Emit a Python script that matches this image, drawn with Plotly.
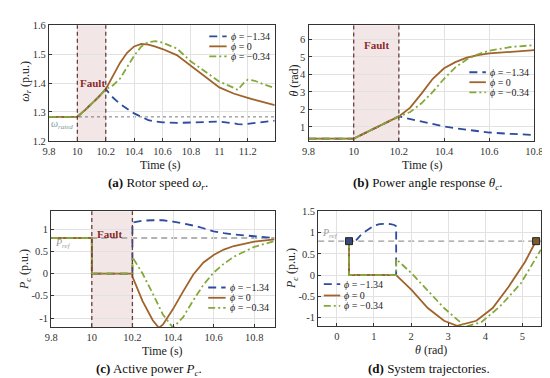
import plotly.graph_objects as go

# ---------------- data ----------------
# (a) rotor speed
t_a = [9.8, 10.0, 10.05, 10.1, 10.15, 10.2, 10.25, 10.3, 10.35, 10.4, 10.45, 10.5, 10.55, 10.6,
       10.7, 10.8, 10.9, 11.0, 11.1, 11.13, 11.17, 11.2, 11.25, 11.3, 11.39]
wr_blue = [1.283, 1.283, 1.305, 1.328, 1.352, 1.379, 1.35, 1.328, 1.31, 1.295, 1.283, 1.272, 1.267, 1.264,
           1.262, 1.263, 1.265, 1.267, 1.261, 1.258, 1.257, 1.259, 1.262, 1.265, 1.27]
wr_brown = [1.283, 1.283, 1.305, 1.328, 1.352, 1.379, 1.424, 1.47, 1.505, 1.527, 1.536, 1.533, 1.526, 1.518,
            1.497, 1.46, 1.42, 1.385, 1.364, 1.359, 1.354, 1.349, 1.342, 1.335, 1.324]
wr_green = [1.283, 1.283, 1.305, 1.328, 1.352, 1.379, 1.392, 1.415, 1.455, 1.495, 1.527, 1.542, 1.545, 1.54,
            1.52, 1.475, 1.44, 1.405, 1.384, 1.376, 1.40, 1.412, 1.408, 1.398, 1.383]
w_rated = 1.283

# (b) power angle
t_b = [9.8, 10.0, 10.2, 10.25, 10.3, 10.35, 10.4, 10.45, 10.5, 10.55, 10.6, 10.7, 10.8]
th_blue = [0.33, 0.33, 1.6, 1.45, 1.3, 1.15, 1.02, 0.92, 0.83, 0.75, 0.68, 0.6, 0.54]
th_brown = [0.33, 0.33, 1.6, 2.1, 2.9, 3.75, 4.35, 4.7, 4.95, 5.1, 5.2, 5.3, 5.38]
th_green = [0.33, 0.33, 1.6, 1.85, 2.35, 3.0, 3.75, 4.4, 4.85, 5.15, 5.35, 5.57, 5.67]

# (c) active power
t_c = [9.8, 10.0, 10.0, 10.2, 10.2, 10.25, 10.3, 10.33, 10.35, 10.4, 10.45, 10.5, 10.55, 10.6, 10.65,
       10.7, 10.8, 10.9]
pc_blue = [0.8, 0.8, 0.0, 0.0, 1.15, 1.19, 1.2, 1.2, 1.2, 1.17, 1.13, 1.08, 1.02, 0.95, 0.91,
           0.88, 0.84, 0.80]
pc_brown = [0.8, 0.8, 0.0, 0.0, -0.07, -0.62, -1.05, -1.22, -1.15, -0.8, -0.4, -0.02, 0.25, 0.42, 0.54,
            0.62, 0.72, 0.77]
pc_green = [0.8, 0.8, 0.0, 0.0, 0.37, 0.0, -0.45, -0.75, -0.92, -1.22, -0.98, -0.6, -0.25, 0.02, 0.22,
            0.38, 0.6, 0.73]
p_ref = 0.8

# (d) trajectories
thd_blue = [0.33, 0.33, 1.6, 1.6, 1.55, 1.45, 1.3, 1.15, 1.0, 0.85, 0.72, 0.62, 0.55, 0.52]
pd_blue = [0.8, 0.0, 0.0, 1.15, 1.18, 1.2, 1.21, 1.2, 1.16, 1.08, 1.0, 0.92, 0.86, 0.82]
thd_brown = [0.33, 0.33, 1.6, 2.02, 2.45, 2.89, 3.24, 3.76, 4.2, 4.63, 5.07, 5.37]
pd_brown = [0.8, 0.0, 0.0, -0.35, -0.77, -1.07, -1.19, -1.07, -0.77, -0.27, 0.31, 0.81]
thd_green = [0.33, 0.33, 1.6, 1.6, 2.02, 2.45, 2.89, 3.32, 3.5, 3.9, 4.4, 4.96, 5.5]
pd_green = [0.8, 0.0, 0.0, 0.38, 0.04, -0.35, -0.77, -1.1, -1.2, -1.1, -0.73, -0.19, 0.6]
start_pt = [0.33, 0.8]
end_pt = [5.37, 0.8]

labels = ["<i>ϕ</i> = −1.34", "<i>ϕ</i> = 0", "<i>ϕ</i> = −0.34"]
fault = [10.0, 10.2]

# ---------------- style ----------------
C_BLUE = "#2d4c9e"
C_BROWN = "#a0632b"
C_GREEN = "#86a83a"
DASHES = ["8px,5px", "solid", "7px,3px,2px,3px"]
COLORS = [C_BLUE, C_BROWN, C_GREEN]
SERIF = "Liberation Serif"
LW = 1.8

fig = go.Figure()

def add_series(xs, ys, ax):
    for x, y, c, d in zip(xs, ys, COLORS, DASHES):
        fig.add_trace(go.Scatter(x=x, y=y, mode="lines", line=dict(color=c, dash=d, width=LW),
                                 xaxis="x" + ax, yaxis="y" + ax, showlegend=False,
                                 cliponaxis=True))

add_series([t_a] * 3, [wr_blue, wr_brown, wr_green], "")
add_series([t_b] * 3, [th_blue, th_brown, th_green], "2")
add_series([t_c] * 3, [pc_blue, pc_brown, pc_green], "3")
add_series([thd_blue, thd_brown, thd_green], [pd_blue, pd_brown, pd_green], "4")

fig.add_trace(go.Scatter(x=[start_pt[0]], y=[start_pt[1]], mode="markers",
                         marker=dict(symbol="square", size=7, color="#3a4a78",
                                     line=dict(color="#222", width=1)),
                         xaxis="x4", yaxis="y4", showlegend=False))
fig.add_trace(go.Scatter(x=[end_pt[0]], y=[end_pt[1]], mode="markers",
                         marker=dict(symbol="square", size=7, color="#7d5a2c",
                                     line=dict(color="#222", width=1)),
                         xaxis="x4", yaxis="y4", showlegend=False))

shapes = []
annotations = []

def yd(ax):
    return ("y" + ax + " domain") if ax else "y domain"

def xd(ax):
    return ("x" + ax + " domain") if ax else "x domain"

# fault shading
for ax in ["", "2", "3"]:
    shapes.append(dict(type="rect", xref="x" + ax, yref=yd(ax),
                       x0=fault[0], x1=fault[1], y0=0, y1=1, fillcolor="rgba(195,130,130,0.2)",
                       line=dict(width=0), layer="below"))
    for fx in fault:
        shapes.append(dict(type="line", xref="x" + ax, yref=yd(ax),
                           x0=fx, x1=fx, y0=0, y1=1, line=dict(color="#6e3b3b", dash="4px,3px", width=1.3),
                           layer="above"))

# reference lines
shapes.append(dict(type="line", xref="x domain", yref="y", x0=0, x1=1, y0=w_rated, y1=w_rated,
                   line=dict(color="#777", dash="dot", width=1), layer="below"))
shapes.append(dict(type="line", xref="x3 domain", yref="y3", x0=0, x1=1, y0=p_ref, y1=p_ref,
                   line=dict(color="#9a9a9a", dash="6px,4px", width=1.3), layer="below"))
shapes.append(dict(type="line", xref="x4 domain", yref="y4", x0=0, x1=1, y0=p_ref, y1=p_ref,
                   line=dict(color="#9a9a9a", dash="6px,4px", width=1.3), layer="below"))

# Fault labels
FAULT_FONT = dict(family=SERIF, size=11, color="#8a2c2c")
annotations.append(dict(x=10.11, y=1.40, xref="x", yref="y", text="<b>Fault</b>", showarrow=False, font=FAULT_FONT))
annotations.append(dict(x=10.1, y=5.68, xref="x2", yref="y2", text="<b>Fault</b>", showarrow=False, font=FAULT_FONT))
annotations.append(dict(x=10.085, y=0.9, xref="x3", yref="y3", text="<b>Fault</b>", showarrow=False, font=FAULT_FONT))

# ref labels
annotations.append(dict(x=9.8, y=1.257, xref="x", yref="y", xanchor="left", text="<i>ω<sub>rated</sub></i>",
                        showarrow=False, font=dict(family=SERIF, size=10, color="#7a9ea3")))
annotations.append(dict(x=9.81, y=0.68, xref="x3", yref="y3", xanchor="left", text="<i>P<sub>ref</sub></i>",
                        showarrow=False, font=dict(family=SERIF, size=10, color="#9a9a9a")))
annotations.append(dict(x=-0.45, y=0.99, xref="x4", yref="y4", xanchor="left", text="<i>P<sub>ref</sub></i>",
                        showarrow=False, font=dict(family=SERIF, size=10, color="#9a9a9a")))

# manual legends (domain coords)
legend_specs = [
    ("", 0.71, 0.787, 0.796, [0.905, 0.818, 0.731]),
    ("2", 0.712, 0.785, 0.794, [0.596, 0.510, 0.423]),
    ("3", 0.703, 0.781, 0.79, [0.341, 0.252, 0.165]),
    ("4", 0.025, 0.099, 0.107, [0.367, 0.268, 0.177]),
]
for ax, lx0, lx1, tx, rows in legend_specs:
    for lab, c, d, ry in zip(labels, COLORS, DASHES, rows):
        shapes.append(dict(type="line", xref=xd(ax), yref=yd(ax),
                           x0=lx0, x1=lx1, y0=ry, y1=ry, line=dict(color=c, dash=d, width=LW)))
        annotations.append(dict(x=tx, y=ry, xref=xd(ax), yref=yd(ax),
                                xanchor="left", yanchor="middle", text=lab, showarrow=False,
                                font=dict(family=SERIF, size=10, color="#222")))

W, H = 550, 378
def px(x, y):
    return x / W, 1 - y / H

TITLE_FONT = dict(family=SERIF, size=12, color="#222")
for (x, y, txt, rot) in [
    (11, 70, "<i>ω<sub>r</sub></i> (p.u.)", -90),
    (287, 70, "<i>θ</i> (rad)", -90),
    (11, 264, "<i>P<sub>c</sub></i> (p.u.)", -90),
    (286, 263, "<i>P<sub>c</sub></i> (p.u.)", -90),
    (150, 157, "Time (s)", 0),
    (420, 157, "Time (s)", 0),
    (152, 348, "Time (s)", 0),
    (428, 347, "<i>θ</i> (rad)", 0),
]:
    xx, yy = px(x, y)
    annotations.append(dict(x=xx, y=yy, xref="paper", yref="paper", text=txt, textangle=rot,
                            showarrow=False, font=TITLE_FONT, xanchor="center", yanchor="middle"))

CAP_FONT = dict(family=SERIF, size=13, color="#111")
for (x, y, txt) in [
    (147, 176, "<b>(a)</b> Rotor speed <i>ω<sub>r</sub></i>."),
    (425, 176, "<b>(b)</b> Power angle response <i>θ<sub>c</sub></i>."),
    (138, 367, "<b>(c)</b> Active power <i>P<sub>c</sub></i>."),
    (426, 366, "<b>(d)</b> System trajectories."),
]:
    xx, yy = px(x, y)
    annotations.append(dict(x=xx, y=yy, xref="paper", yref="paper", text=txt, showarrow=False,
                            font=CAP_FONT, xanchor="center", yanchor="middle"))

def axstyle(domain, rng, tickvals, ticktext=None, anchor=None):
    d = dict(domain=domain, range=rng, tickvals=tickvals, showgrid=True, gridcolor="#e2e2e2",
             gridwidth=1, zeroline=False, showline=True, linecolor="#333", linewidth=1.2, mirror=True,
             ticks="inside", ticklen=3, tickcolor="#333",
             tickfont=dict(family=SERIF, size=10.5, color="#333"), anchor=anchor)
    if ticktext is not None:
        d["ticktext"] = ticktext
    return d

def ydom(top, bot):
    return [1 - bot / H, 1 - top / H]

def xdom(l, r):
    return [l / W, r / W]

layout = dict(
    width=W, height=H, margin=dict(l=0, r=0, t=0, b=0),
    paper_bgcolor="white", plot_bgcolor="white", showlegend=False,
    xaxis=axstyle(xdom(35, 267.5), [9.8, 11.39], [9.8, 10, 10.2, 10.4, 10.6, 10.8, 11, 11.2],
                  ["9.8", "10", "10.2", "10.4", "10.6", "10.8", "11", "11.2"], "y"),
    yaxis=axstyle(ydom(12.7, 131.7), [1.2, 1.6], [1.2, 1.3, 1.4, 1.5, 1.6],
                  ["1.2", "1.3", "1.4", "1.5", "1.6"], "x"),
    xaxis2=axstyle(xdom(302.3, 535), [9.8, 10.8], [9.8, 10, 10.2, 10.4, 10.6, 10.8],
                   ["9.8", "10", "10.2", "10.4", "10.6", "10.8"], "y2"),
    yaxis2=axstyle(ydom(12.7, 132.3), [0.17, 6.8], [1, 2, 3, 4, 5, 6], None, "x2"),
    xaxis3=axstyle(xdom(37.3, 267.3), [9.8, 10.9], [9.8, 10, 10.2, 10.4, 10.6, 10.8],
                   ["9.8", "10", "10.2", "10.4", "10.6", "10.8"], "y3"),
    yaxis3=axstyle(ydom(204.3, 323.3), [-1.2, 1.4], [-1, -0.5, 0, 0.5, 1],
                   ["-1", "-0.5", "0", "0.5", "1"], "x3"),
    xaxis4=axstyle(xdom(312.3, 541.7), [-0.5, 5.5], [0, 1, 2, 3, 4, 5], None, "y4"),
    yaxis4=axstyle(ydom(204.3, 322.7), [-1.2, 1.5], [-1, -0.5, 0, 0.5, 1, 1.5],
                   ["-1", "-0.5", "0", "0.5", "1", "1.5"], "x4"),
    shapes=shapes, annotations=annotations,
)
fig.update_layout(**layout)
fig.write_html("out.html")
